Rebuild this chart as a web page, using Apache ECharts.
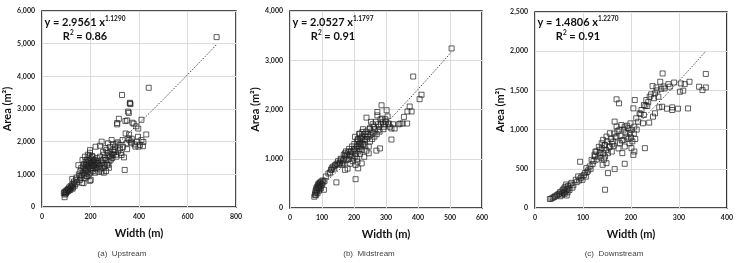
<!DOCTYPE html>
<html><head><meta charset="utf-8">
<script src="https://cdn.jsdelivr.net/npm/echarts@6/dist/echarts.min.js"></script>
<style>html,body{margin:0;padding:0;background:#fff}#c{width:736px;height:263px}</style>
</head><body><div id="c"></div>
<script>
// ---- Data (Width m, Area m2) ----
const upstream = [
[90,420],[92,450],[95,380],[93,300],[96,470],[98,440],[100,500],[99,410],[102,460],[104,520],[106,480],[108,550],[110,500],[112,600],[114,560],[116,520],[118,640],[120,580],[122,620],[124,680],[126,560],[128,600],[130,720],[132,780],[125,860],[135,650],[138,700],[140,830],[142,900],[145,760],
[150,1280],[152,1000],[155,950],[157,830],[158,1100],[160,900],[162,1200],[164,980],[165,740],[167,1440],[168,1050],[170,1240],[171,730],[172,1150],[174,1320],[175,880],[176,1000],[177,1540],[178,1200],[179,1100],[180,1380],[181,1135],[182,1300],[183,950],[184,1440],[185,1250],[186,1050],[187,930],[188,1350],[189,1600],[190,1150],[191,1240],[192,1450],[193,1000],[194,1300],[195,1550],[196,1390],[197,800],[198,1740],[198,1660],[199,1200],[200,1050],[201,830],[202,1350],[203,1480],[204,1250],[205,1340],[206,1150],[207,1560],[208,1540],[209,1300],[210,1100],[211,1420],[212,1185],[213,1250],[214,1440],[215,1300],[216,1380],[218,1285],[219,1050],[220,1450],[221,1845],[222,1200],[224,1350],[225,1185],[226,1500],[228,1300],[230,1400],
[232,1340],[234,1080],[236,1250],[239,1540],[239,1875],[240,1150],[242,1300],[244,1420],[246,2000],[246,1085],[248,1350],[250,1200],[252,1690],[252,1440],[254,1600],[255,1050],[257,1300],[259,1240],[260,1500],[262,1800],[264,1100],[266,1740],[266,1440],[268,1300],[270,1650],[272,1950],[273,1290],[275,1550],[276,1200],[278,1400],[280,1840],[280,1540],[282,1700],[284,1450],[287,2050],[288,1620],[290,1500],[292,1750],[294,1925],[294,1590],[297,1680],[300,1740],[302,1850],[305,1600],[307,1945],[307,1540],[310,2530],[310,2570],[312,1980],[314,1700],[317,2700],[320,1900],[321,1790],[325,1650],[328,1590],[330,3430],[332,2050],[334,1840],[338,1520],
[341,1135],[344,2630],[345,2250],[348,1950],[351,2650],[351,1770],[355,2920],[356,2100],[358,2880],[359,2220],[360,2050],[362,3170],[363,3190],[365,3150],[366,2000],[369,1950],[370,2090],[373,2580],[378,2550],[382,1915],[385,1850],[389,2470],[392,2000],[396,2150],[397,2400],[398,1850],[404,1900],[410,2670],[410,2050],[416,1860],[418,1990],[430,2220],[440,3650],
[720,5200]
];
const midstream = [
[76,230],[78,270],[79,300],[80,350],[81,260],[82,400],[83,370],[84,330],[85,430],[86,300],[87,470],[88,400],[89,450],[90,500],[90,350],[91,420],[92,480],[93,380],[94,520],[95,440],[96,500],[97,405],[98,540],[100,480],[102,560],[104,520],[106,370],[108,550],
[112,640],[120,700],[125,720],[128,780],[130,775],[132,820],[135,840],[138,800],[140,860],[142,875],[145,520],[146,900],[150,950],[152,880],[155,920],[156,905],[158,1000],[160,980],[162,880],[165,950],[167,905],[168,1080],[170,1000],[172,1110],[172,775],[174,1050],[175,1150],[177,975],[178,1080],[180,800],[182,1140],[184,1000],[185,1200],[187,1075],[188,900],[190,1150],[192,1050],[194,1250],[195,1140],[196,950],[198,1010],[200,1200],
[201,1300],[203,1445],[203,1175],[204,1050],[205,875],[205,585],[206,1100],[208,1250],[209,1350],[210,1000],[211,1245],[211,940],[212,1400],[213,1380],[213,805],[214,1150],[215,1300],[216,1500],[217,1200],[218,1310],[218,1510],[219,1100],[220,1350],[221,1420],[222,1250],[224,1175],[224,905],[225,1450],[226,1545],[227,1300],[228,1600],[229,1280],[230,1400],[232,1040],[233,1500],[234,1380],[235,1250],[236,1450],[238,1550],[239,1165],[239,1835],[240,1400],[242,1445],[244,1500],[246,1110],[246,1245],[248,1600],[250,1620],[250,1350],[252,1480],[253,1750],[255,1550],[257,1400],[258,1700],
[260,1525],[262,1650],[264,1450],[266,1600],[268,1750],[270,1165],[271,1500],[273,1950],[273,1880],[275,1700],[276,1580],[278,1650],[280,1550],[281,1210],[283,1800],[284,1700],[286,2085],[288,1815],[290,1750],[292,1600],[294,1650],[296,1700],[298,1800],[300,1750],[302,1985],[305,1860],[307,1700],[309,1715],[312,1650],[317,1615],[317,1390],[322,1700],[327,1615],[340,1700],[345,1715],[352,1715],[356,1850],[366,1715],[367,1960],[374,2060],[380,1960],[385,2670],[405,2210],[411,2300],[505,3240]
];
const downstream = [
[31,115],[34,120],[37,130],[40,140],[42,150],[45,160],[47,170],[50,180],[52,200],[53,150],[55,210],[56,170],[58,230],[59,190],[60,250],[61,200],[62,180],[63,270],[64,220],[65,300],[66,160],[67,240],[68,200],[69,280],[70,250],[72,230],[74,300],[76,320],[78,260],[80,290],
[85,360],[87,330],[90,403],[92,350],[94,590],[95,380],[97,403],[99,360],[102,420],[104,445],[106,400],[107,508],[109,460],[111,480],[114,530],[116,500],[118,614],[120,560],[122,600],[124,680],[125,657],[126,720],[128,720],[130,620],[132,657],[133,780],[135,742],[136,700],[138,640],[139,826],[140,760],[141,551],[142,869],[143,700],[144,620],[145,800],[146,657],[146,805],[146,233],[148,740],[149,572],[149,911],[150,850],[152,699],[152,445],
[154,780],[156,784],[156,953],[158,880],[160,720],[161,820],[163,847],[164,793],[165,950],[166,1102],[166,496],[168,900],[170,1038],[170,911],[170,1386],[172,980],[174,760],[175,1335],[176,1000],[177,826],[178,920],[180,1059],[181,860],[182,700],[184,869],[185,1000],[187,1038],[187,784],[187,564],[189,960],[191,911],[192,1050],[194,1017],[195,880],[197,826],[198,953],[199,1080],[200,900],[201,996],[201,763],[203,850],[205,678],[205,1271],[206,950],[207,1038],[207,720],[208,1377],[209,880],[211,1144],[212,1000],[215,1100],[218,1208],[220,1200],[222,1250],[225,1080],[227,1314],[227,1186],[229,763],[230,1300],[232,1377],[234,1301],[236,1350],[238,1089],[239,1419],
[242,1450],[245,1555],[246,1165],[248,1400],[250,1462],[250,1208],[253,1538],[255,1500],[257,1419],[259,1284],[261,1610],[263,1520],[265,1292],[266,1716],[268,1550],[270,1525],[275,1267],[278,1580],[281,1547],[286,1250],[286,1284],[290,1600],[298,1267],[302,1483],[304,1589],[309,1496],[312,1580],[319,1270],[322,1610],[342,1547],[349,1504],[356,1538],[356,1710]
];
// fitted equations shown on the chart: y = a * x^b, R2
const coefA = [2.9561, 2.0527, 1.4806];
const coefB = ['1.1290', '1.1797', '1.2270'];
const r2 = ['0.86', '0.91', '0.91'];
const captions = ['(a)  Upstream', '(b)  Midstream', '(c)  Downstream'];
const xMax = [800, 600, 400];
const xStep = [200, 100, 100];
const yMax = [6000, 4000, 2500];
const yStep = [1000, 1000, 500];

const datasets = [upstream, midstream, downstream];
const grids = [
  {left: 42, top: 11, width: 194, height: 196},
  {left: 290, top: 11, width: 192, height: 197},
  {left: 535, top: 12, width: 192, height: 196}
];
const fmt = v => String(v).replace(/\B(?=(\d{3})+(?!\d))/g, ',');
const FONT = 'Lato';

function trend(i) {
  const xs = datasets[i].map(d => d[0]);
  const lo = Math.min(...xs), hi = Math.max(...xs);
  const pts = [];
  const n = 40;
  for (let k = 0; k <= n; k++) {
    const x = lo + (hi - lo) * k / n;
    pts.push([x, coefA[i] * Math.pow(x, parseFloat(coefB[i]))]);
  }
  return pts;
}

const option = {
  animation: false,
  grid: grids.map(g => Object.assign({show: true, borderColor: '#111', borderWidth: 1.5, backgroundColor: 'transparent'}, g)),
  xAxis: grids.map((g, i) => ({
    gridIndex: i, type: 'value', min: 0, max: xMax[i], interval: xStep[i],
    axisLine: {show: false}, axisTick: {show: false},
    splitLine: {show: true, lineStyle: {color: '#dcdcdc', width: 1}},
    axisLabel: {fontSize: 7, fontWeight: 'bold', color: '#222', fontFamily: FONT, margin: 6, formatter: fmt},
    name: 'Width (m)', nameLocation: 'middle', nameGap: 21,
    nameTextStyle: {fontSize: 11, fontWeight: 'bold', fontFamily: FONT, color: '#111'}
  })),
  yAxis: grids.map((g, i) => ({
    gridIndex: i, type: 'value', min: 0, max: yMax[i], interval: yStep[i],
    axisLine: {show: false}, axisTick: {show: false},
    splitLine: {show: true, lineStyle: {color: '#dcdcdc', width: 1}},
    axisLabel: {fontSize: 7, fontWeight: 'bold', color: '#222', fontFamily: FONT, margin: 7, formatter: fmt},
    name: 'Area (m²)', nameLocation: 'middle', nameGap: 26, nameRotate: 90,
    nameTextStyle: {fontSize: 11, fontWeight: 'bold', fontFamily: FONT, color: '#111'}
  })),
  series: [].concat(
    datasets.map((d, i) => ({
      type: 'scatter', xAxisIndex: i, yAxisIndex: i, data: d,
      symbol: 'rect', symbolSize: 5,
      itemStyle: {color: 'rgba(255,255,255,0)', borderColor: '#222', borderWidth: 0.9}
    })),
    datasets.map((d, i) => ({
      type: 'line', xAxisIndex: i, yAxisIndex: i, data: trend(i),
      showSymbol: false, symbol: 'none', smooth: false, z: 3,
      lineStyle: {color: '#444', width: 1, type: [1.5, 1.5]}
    }))
  ),
  graphic: [].concat(
    grids.map((g, i) => ({
      type: 'text', x: g.left + 43, y: 15, z: 10,
      style: {
        text: '{a|y = ' + coefA[i].toFixed(4) + ' x}{s|' + coefB[i] + '}\n{a|R}{s|2}{a| = ' + r2[i] + '}',
        align: 'center', verticalAlign: 'top',
        rich: {
          a: {fontSize: 11, fontWeight: 'bold', fontFamily: FONT, fill: '#111', lineHeight: 14, align: 'center'},
          s: {fontSize: 6.5, fontWeight: 'bold', fontFamily: FONT, fill: '#111', verticalAlign: 'top', lineHeight: 14, align: 'center', padding: [0, 0, 5, 0]}
        }
      }
    })),
    grids.map((g, i) => ({
      type: 'text', x: g.left + g.width / 2 - 17, y: 254, z: 10,
      style: {text: captions[i], align: 'center', verticalAlign: 'middle', fontSize: 8, fontFamily: 'Liberation Sans', fill: '#444'}
    }))
  )
};
const chart = echarts.init(document.getElementById('c'), null, {renderer: 'canvas'});
chart.setOption(option);
</script></body></html>
